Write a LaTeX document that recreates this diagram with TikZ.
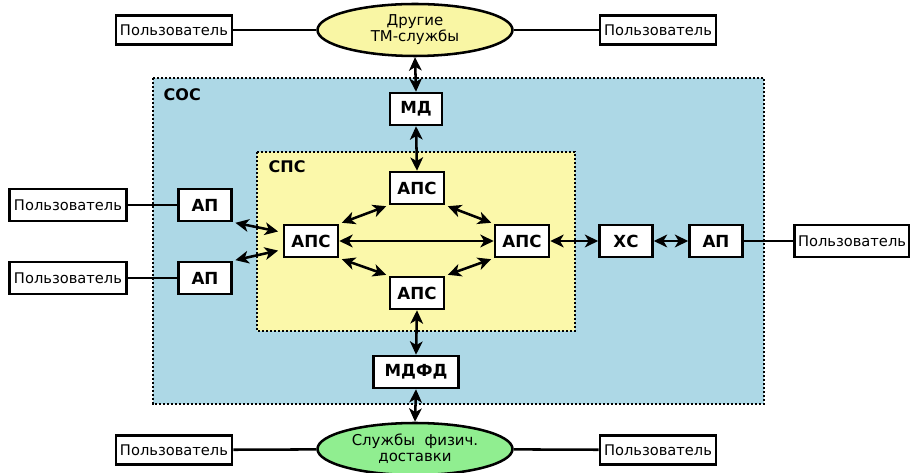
\documentclass[tikz,border=0pt]{standalone}
\usepackage{fontspec}
\setmainfont{DejaVu Sans}
\usetikzlibrary{arrows.meta,shapes.geometric,calc}
\definecolor{cosblue}{HTML}{ADD8E6}
\definecolor{spsyellow}{HTML}{FBF8AA}
\definecolor{elyellow}{HTML}{F9F6A4}
\definecolor{elgreen}{HTML}{90EE90}
\begin{document}
\begin{tikzpicture}[x=0.75pt,y=-0.75pt,
  userbox/.style={draw,fill=white,line width=1.9pt,minimum width=116*0.75pt,minimum height=29*0.75pt,inner sep=0pt,font=\fontsize{11}{12}\selectfont},
  blk/.style={draw,fill=white,line width=1.9pt,minimum width=54*0.75pt,minimum height=32*0.75pt,inner sep=0pt,font=\fontsize{12.5}{14}\selectfont\bfseries},
  svc/.style={ellipse,draw,line width=1.9pt,minimum width=195*0.75pt,minimum height=52*0.75pt,inner sep=0pt,align=center,font=\fontsize{11.2}{12}\selectfont},
  area/.style={line width=1.6pt,dash pattern=on 1.6pt off 1.4pt},
  conn/.style={line width=1.9pt},
  biarr/.style={line width=1.9pt,{Stealth[length=10pt,width=9.5pt,inset=2.8pt]}-{Stealth[length=10pt,width=9.5pt,inset=2.8pt]}}
]
\useasboundingbox (0,0) rectangle (910,473);
% areas
\draw[area,fill=cosblue] (153,78) rectangle (764,404);
\node[anchor=west,font=\fontsize{12}{13}\selectfont\bfseries] (coslbl) at (159,95) {СОС};
\draw[area,fill=spsyellow] (257,152) rectangle (575,331);
\node[anchor=west,font=\fontsize{12}{13}\selectfont\bfseries] (spslbl) at (264,167) {СПС};
% services
\node[svc,fill=elyellow] (tm) at (415,30) {Другие\\ТМ-службы};
\node[svc,fill=elgreen] (fiz) at (415,449) {Службы~~физич.\\доставки};
% users
\node[userbox] (u1) at (174,30) {Пользователь};
\node[userbox] (u2) at (658,30) {Пользователь};
\node[userbox,minimum width=117*0.75pt,minimum height=32*0.75pt] (u3) at (68,205) {Пользователь};
\node[userbox,minimum width=117*0.75pt,minimum height=32*0.75pt] (u4) at (68,278) {Пользователь};
\node[userbox,minimum width=115*0.75pt,minimum height=32*0.75pt] (u5) at (852,241) {Пользователь};
\node[userbox] (u6) at (174,450) {Пользователь};
\node[userbox] (u7) at (658,450) {Пользователь};
% blocks
\node[blk,minimum width=52*0.75pt] (md) at (416,109) {МД};
\node[blk] (at) at (417,188) {АПС};
\node[blk] (al) at (311,241) {АПС};
\node[blk] (ar) at (522,241) {АПС};
\node[blk] (ab) at (417,293) {АПС};
\node[blk,minimum width=53*0.75pt] (ap1) at (205,205) {АП};
\node[blk,minimum width=53*0.75pt] (ap2) at (205,278) {АП};
\node[blk,minimum width=53*0.75pt] (xc) at (626,241) {ХС};
\node[blk,minimum width=53*0.75pt] (ap3) at (716,241) {АП};
\node[blk,minimum width=85*0.75pt] (mdfd) at (416,372) {МДФД};
% plain lines
\draw[conn] (u1) -- (tm);
\draw[conn] (tm) -- (u2);
\draw[conn] (u3) -- (ap1);
\draw[conn] (u4) -- (ap2);
\draw[conn] (ap3) -- (u5);
\draw[conn] (u6) -- (fiz);
\draw[conn] (fiz) -- (u7);
% arrows
\draw[biarr] (tm.south) -- (md.north);
\draw[biarr] (md.south) -- (at.north);
\draw[biarr] (ab.south) -- (mdfd.north);
\draw[biarr] (mdfd.south) -- (fiz.north);
\draw[biarr] (al.east) -- (ar.west);
\draw[biarr,shorten <=2pt,shorten >=2pt] (at.south west) -- (al.north east);
\draw[biarr,shorten <=2pt,shorten >=2pt] (at.south east) -- (ar.north west);
\draw[biarr,shorten <=2pt,shorten >=2pt] (al.south east) -- (ab.north west);
\draw[biarr,shorten <=2pt,shorten >=2pt] (ar.south west) -- (ab.north east);
\draw[biarr,shorten <=2pt,shorten >=2pt] (ap1.south east) -- ($(al.west)+(-2,-9)$);
\draw[biarr,shorten <=2pt,shorten >=2pt] (ap2.north east) -- ($(al.west)+(-2,9)$);
\draw[biarr] (ar.east) -- (xc.west);
\draw[biarr] (xc.east) -- (ap3.west);
\end{tikzpicture}
\end{document}
